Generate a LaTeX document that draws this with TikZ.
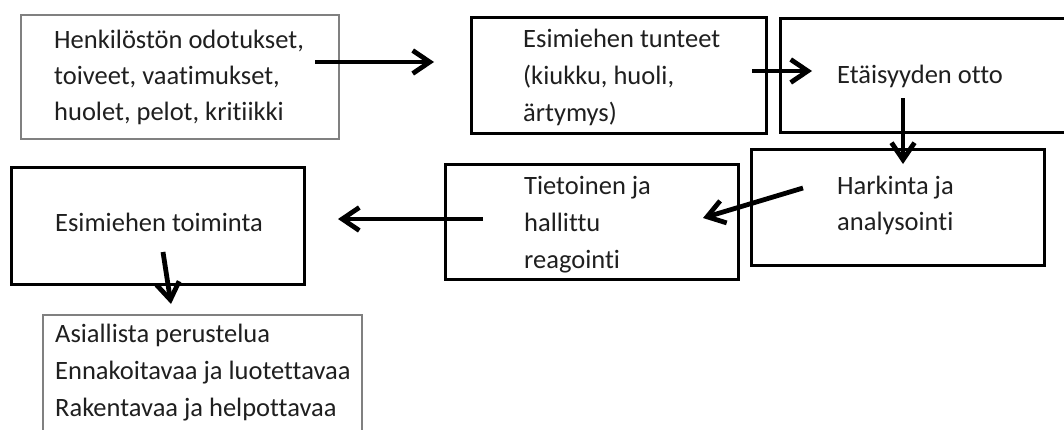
\documentclass[tikz,border=0pt]{standalone}
\usepackage{fontspec}
\setmainfont[Ligatures=NoCommon]{Carlito}
\usetikzlibrary{arrows.meta}
\newcommand\boxlines[2]{\parbox[t]{340pt}{\fontsize{26.5}{#1}\selectfont\raggedright #2}}
\begin{document}
\begin{tikzpicture}[x=1pt,y=-1pt,
  boxblack/.style={draw=black,line width=2.5pt,anchor=north west,inner sep=0pt},
  boxgray/.style={draw=black!50,line width=2.3pt,anchor=north west,inner sep=0pt},
  txt/.style={anchor=base west,inner sep=0pt,text=black!88},
  arr/.style={line width=4.8pt,-{Straight Barb[length=17pt,width=23pt]}}]
\useasboundingbox (0,0) rectangle (1064,429);
\fill[white] (0,0) rectangle (1064,429);
% boxes
\node[boxgray,minimum width=318pt,minimum height=124pt] (b1) at (20,14) {};
\node[boxblack,minimum width=295pt,minimum height=116pt] (b2) at (470,16) {};
\node[boxblack,minimum width=305pt,minimum height=114pt] (b3) at (779,17) {};
\node[boxblack,minimum width=293pt,minimum height=116pt] (b4) at (750,148) {};
\node[boxblack,minimum width=293pt,minimum height=115pt] (b5) at (444,163) {};
\node[boxblack,minimum width=293pt,minimum height=117pt] (b6) at (10,166) {};
\node[boxgray,minimum width=319pt,minimum height=130pt] (b7) at (42,314) {};
% texts
\node[txt] (t1) at (54,48) {\boxlines{36}{Henkilöstön odotukset,\\toiveet, vaatimukset,\\huolet, pelot, kritiikki}};
\node[txt] (t2) at (523,47) {\boxlines{37}{Esimiehen tunteet\\(kiukku, huoli,\\ärtymys)}};
\node[txt] (t3) at (837,83) {\boxlines{37}{Etäisyyden otto}};
\node[txt] (t4) at (837,194) {\boxlines{36.5}{Harkinta ja\\analysointi}};
\node[txt] (t5) at (524,194) {\boxlines{37}{Tietoinen ja\\hallittu\\reagointi}};
\node[txt] (t6) at (55,231) {\boxlines{37}{Esimiehen toiminta}};
\node[txt] (t7) at (55,342) {\boxlines{37}{Asiallista perustelua\\Ennakoitavaa ja luotettavaa\\Rakentavaa ja helpottavaa}};
% arrow end points
\coordinate (a1s) at (315,62);  \coordinate (a1e) at (434,62);
\coordinate (a2s) at (752,71);  \coordinate (a2e) at (812,71);
\coordinate (a3s) at (903,98);  \coordinate (a3e) at (903,164);
\coordinate (a4s) at (803,188); \coordinate (a4e) at (703,218);
\coordinate (a5s) at (483,219); \coordinate (a5e) at (338,219);
\coordinate (a6s) at (163,252); \coordinate (a6e) at (171,304);
\draw[arr] (a1s) -- (a1e);
\draw[arr] (a2s) -- (a2e);
\draw[arr] (a3s) -- (a3e);
\draw[arr] (a4s) -- (a4e);
\draw[arr] (a5s) -- (a5e);
\draw[arr] (a6s) -- (a6e);
\end{tikzpicture}
\end{document}
